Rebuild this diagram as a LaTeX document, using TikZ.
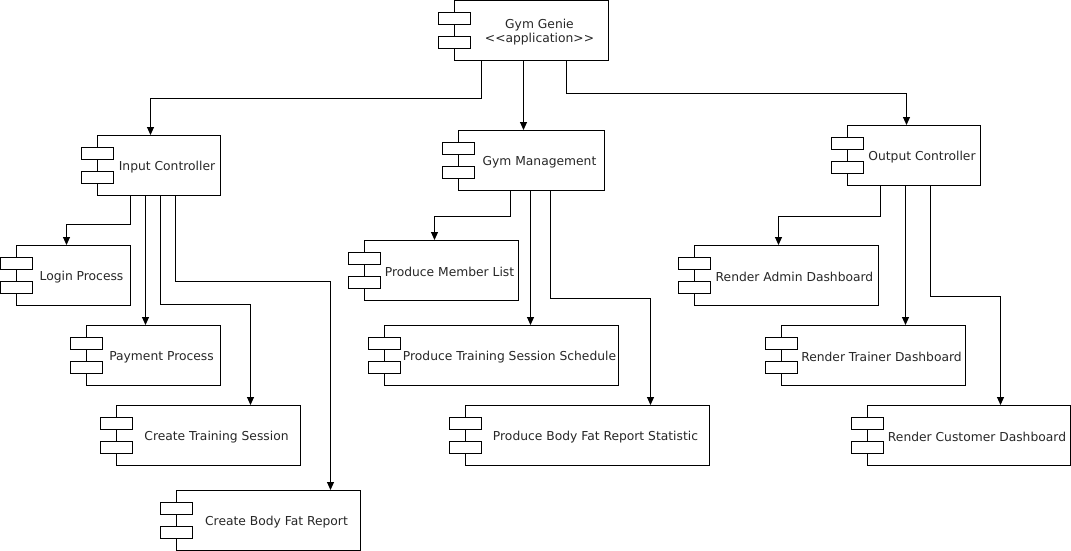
\documentclass[tikz,border=0pt]{standalone}
\usepackage{fontspec}
\setmainfont{DejaVu Sans}
\usetikzlibrary{calc,arrows.meta}

\tikzset{
	comp/.style={draw, line width=1pt, anchor=north west, minimum height=60, inner sep=0pt},
	lbl/.style={xshift=8pt, yshift=-1.5pt, text=black!85, font=\fontsize{12.3}{14}\selectfont},
	arr/.style={-{Triangle[width=7pt,length=8pt]}, line width=1pt},
}

\begin{document}
\begin{tikzpicture}[x=1pt, y=-1pt]
	\useasboundingbox (0,0) rectangle (1071,551);

	\node [comp, minimum width=154, label={[lbl, align=center]center:Gym Genie\\<\kern0pt<application>\kern0pt>}] (genie) at (454,0) {};

	\node [comp, minimum width=123, label={[lbl]center:Input Controller}] (input) at (97,135) {};
	\node [comp, minimum width=146, label={[lbl]center:Gym Management}] (manage) at (458,130) {};
	\node [comp, minimum width=133, label={[lbl]center:Output Controller}] (output) at (847,125) {};

	\node [comp, minimum width=114, label={[lbl]center:Login Process}] (login) at (16,245) {};
	\node [comp, minimum width=134, label={[lbl]center:Payment Process}] (payment) at (86,325) {};
	\node [comp, minimum width=184, label={[lbl]center:Create Training Session}] (training) at (116,405) {};
	\node [comp, minimum width=184, label={[lbl]center:Create Body Fat Report}] (bodyfat) at (176,490) {};

	\node [comp, minimum width=154, label={[lbl]center:Produce Member List}] (memberlist) at (364,240) {};
	\node [comp, minimum width=234, label={[lbl]center:Produce Training Session Schedule}] (schedule) at (384,325) {};
	\node [comp, minimum width=244, label={[lbl]center:Produce Body Fat Report Statistic}] (statistic) at (465,405) {};

	\node [comp, minimum width=184, label={[lbl]center:Render Admin Dashboard}] (admin) at (694,245) {};
	\node [comp, minimum width=184, label={[lbl]center:Render Trainer Dashboard}] (trainer) at (781,325) {};
	\node [comp, minimum width=203, label={[lbl]center:Render Customer Dashboard}] (customer) at (867,405) {};

	% component tabs
	\foreach \n in {genie,input,manage,output,login,payment,training,bodyfat,memberlist,schedule,statistic,admin,trainer,customer}
	{
		\draw [line width=1pt, fill=white]
			($(\n.west)+(-16,-18)$) rectangle ++(32,12);
		\draw [line width=1pt, fill=white]
			($(\n.west)+(-16,6)$) rectangle ++(32,12);
	}

	% top level
	\draw
		[arr] ($(genie.south)+(-50,0)$) -- ++(0,37) -| ($(input.north)+(-8.5,0)$);
	\draw
		[arr] ($(genie.south)+(-8,0)$) -- ($(manage.north)+(-8,0)$);
	\draw
		[arr] ($(genie.south)+(35,0)$) -- ++(0,32) -| ($(output.north)+(-7.5,0)$);

	% input controller
	\draw
		[arr] ($(input.south)+(-28.5,0)$) -- ++(0,28) -| ($(login.north)+(-7,0)$);
	\draw
		[arr] ($(input.south)+(-13.5,0)$) -- ($(payment.north)+(-8,0)$);
	\draw
		[arr] ($(input.south)+(1.5,0)$) -- ++(0,108) -| ($(training.north)+(42,0)$);
	\draw
		[arr] ($(input.south)+(16.5,0)$) -- ++(0,85) -| ($(bodyfat.north)+(62,0)$);

	% gym management
	\draw
		[arr] ($(manage.south)+(-21,0)$) -- ++(0,25) -| ($(memberlist.north)+(-7,0)$);
	\draw
		[arr] ($(manage.south)+(-1,0)$) -- ($(schedule.north)+(29,0)$);
	\draw
		[arr] ($(manage.south)+(19,0)$) -- ++(0,107) -| ($(statistic.north)+(63,0)$);

	% output controller
	\draw
		[arr] ($(output.south)+(-33.5,0)$) -- ++(0,30) -| ($(admin.north)+(-8,0)$);
	\draw
		[arr] ($(output.south)+(-8.5,0)$) -- ($(trainer.north)+(32,0)$);
	\draw
		[arr] ($(output.south)+(16.5,0)$) -- ++(0,110) -| ($(customer.north)+(31.5,0)$);
\end{tikzpicture}
\end{document}
